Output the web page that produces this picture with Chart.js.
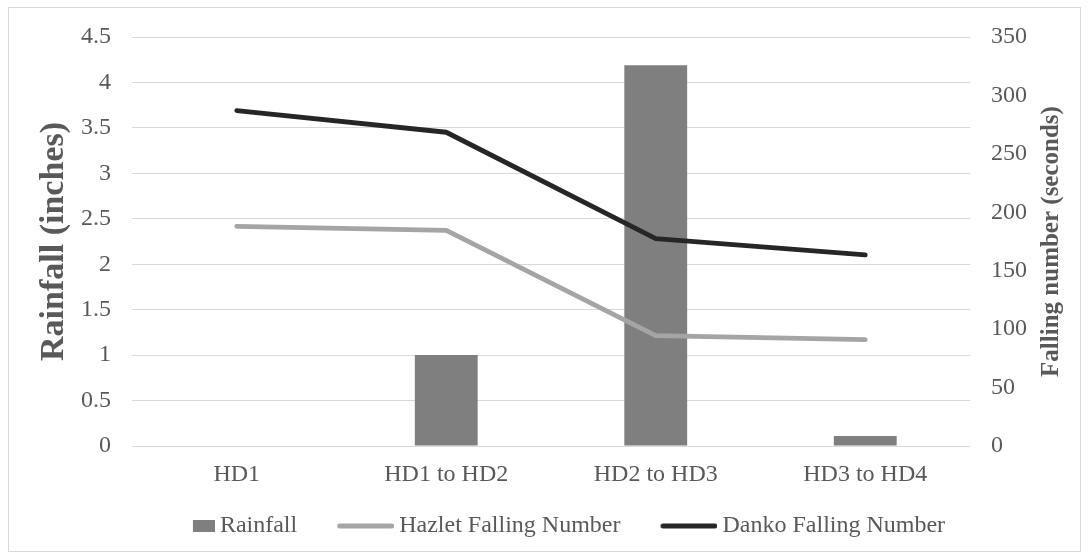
<!DOCTYPE html>
<html>
<head>
<meta charset="utf-8">
<script src="https://cdn.jsdelivr.net/npm/chart.js@4"></script>
<style>
  body { margin: 0; background: #fff; }
  #box {
    position: absolute; left: 8px; top: 7px;
    width: 1073px; height: 545px;
    border: 1px solid #d9d9d9; box-sizing: border-box;
  }
</style>
</head>
<body>
<div id="box"><canvas id="chart"></canvas></div>
<script>
// data
const categories = ['HD1', 'HD1 to HD2', 'HD2 to HD3', 'HD3 to HD4'];
const rainfall = [0, 1.0, 4.19, 0.11];          // inches, left axis
const hazletFN = [188, 184.5, 94.5, 91];        // seconds, right axis
const dankoFN = [287, 268.5, 177.5, 163.5];     // seconds, right axis
const leftTicks = [0, 0.5, 1, 1.5, 2, 2.5, 3, 3.5, 4, 4.5];
const rightTicks = [0, 50, 100, 150, 200, 250, 300, 350];

const textColor = '#595959';
const serif = '"Liberation Serif", "Times New Roman", serif';

// legend symbols (point-style images, symbol sits at the right end)
const SYM_W = 78;
function symbol(color, w, h) {
  let c = document.createElement('canvas');
  c.width = SYM_W; c.height = 14;
  let g = c.getContext('2d');
  g.fillStyle = color;
  if (h > 6) {
    g.fillRect(SYM_W - w, (14 - h) / 2, w, h);
  } else {
    g.strokeStyle = color;
    g.lineWidth = h;
    g.lineCap = 'round';
    g.beginPath();
    g.moveTo(SYM_W - w + h / 2, 7);
    g.lineTo(SYM_W - h / 2, 7);
    g.stroke();
  }
  return c;
}
const symbols = [symbol('#7f7f7f', 22, 12), symbol('#a5a5a5', 57, 5), symbol('#262626', 57, 5)];

// right axis title reads bottom-to-top, so it is drawn here
const rightTitle = {
  id: 'rightTitle',
  afterDraw(chart) {
    const ctx = chart.ctx;
    const a = chart.chartArea;
    ctx.save();
    ctx.translate(1043, (a.top + a.bottom) / 2);
    ctx.rotate(-Math.PI / 2);
    ctx.font = 'bold 25px ' + serif;
    ctx.fillStyle = textColor;
    ctx.textAlign = 'center';
    ctx.textBaseline = 'middle';
    ctx.fillText('Falling number (seconds)', 0, 0);
    ctx.restore();
  }
};

const ctx = document.getElementById('chart').getContext('2d');
const chart = new Chart(ctx, {
  type: 'bar',
  data: {
    labels: categories,
    datasets: [{
      type: 'bar',
      label: 'Rainfall',
      data: rainfall,
      yAxisID: 'y',
      backgroundColor: '#7f7f7f',
      barPercentage: 0.3,
      categoryPercentage: 1,
      order: 3
    }, {
      type: 'line',
      label: 'Hazlet Falling Number',
      data: hazletFN,
      yAxisID: 'y1',
      borderColor: '#a5a5a5',
      backgroundColor: '#a5a5a5',
      borderWidth: 4.8,
      borderCapStyle: 'round',
      borderJoinStyle: 'round',
      pointRadius: 0,
      tension: 0,
      order: 2
    }, {
      type: 'line',
      label: 'Danko Falling Number',
      data: dankoFN,
      yAxisID: 'y1',
      borderColor: '#262626',
      backgroundColor: '#262626',
      borderWidth: 4.8,
      borderCapStyle: 'round',
      borderJoinStyle: 'round',
      pointRadius: 0,
      tension: 0,
      order: 1
    }]
  },
  options: {
    responsive: true,
    maintainAspectRatio: false,
    animation: false,
    layout: { padding: { top: 29, left: 0, right: 0, bottom: 3 } },
    plugins: {
      tooltip: { enabled: false },
      legend: {
        position: 'bottom',
        maxHeight: 62,
        labels: {
          usePointStyle: true,
          pointStyleWidth: 64,
          boxHeight: 14,
          padding: 26,
          color: textColor,
          font: { family: serif, size: 24 },
          sort: (a, b) => a.datasetIndex - b.datasetIndex,
          generateLabels(chart) {
            let items = Chart.defaults.plugins.legend.labels.generateLabels(chart);
            items.forEach(it => { it.pointStyle = symbols[it.datasetIndex]; });
            return items;
          }
        }
      }
    },
    scales: {
      x: {
        grid: { display: false, drawTicks: false },
        border: { display: false },
        ticks: { color: textColor, font: { family: serif, size: 24 }, padding: 14, maxRotation: 0 },
        afterFit: s => { s.height = 42; }
      },
      y: {
        position: 'left',
        min: leftTicks[0],
        max: leftTicks[leftTicks.length - 1],
        ticks: {
          stepSize: 0.5,
          color: textColor,
          font: { family: serif, size: 24 },
          padding: 0,
          callback: v => String(Math.round(v * 10) / 10)
        },
        grid: { color: '#d9d9d9', lineWidth: 1, drawTicks: true, tickLength: 21, tickColor: 'rgba(0,0,0,0)' },
        border: { display: false },
        title: {
          display: true,
          text: 'Rainfall (inches)',
          color: textColor,
          font: { family: serif, size: 34, weight: 'bold' },
          padding: { top: 25, bottom: 0 }
        },
        afterFit: s => { s.width = 123; }
      },
      y1: {
        position: 'right',
        min: rightTicks[0],
        max: rightTicks[rightTicks.length - 1],
        ticks: { stepSize: 50, color: textColor, font: { family: serif, size: 24 }, padding: 0 },
        grid: { color: 'rgba(0,0,0,0)', drawOnChartArea: false, drawTicks: true, tickLength: 21, tickColor: 'rgba(0,0,0,0)' },
        border: { display: false },
        afterFit: s => { s.width = 110; }
      }
    }
  },
  plugins: [rightTitle]
});
</script>
</body>
</html>
